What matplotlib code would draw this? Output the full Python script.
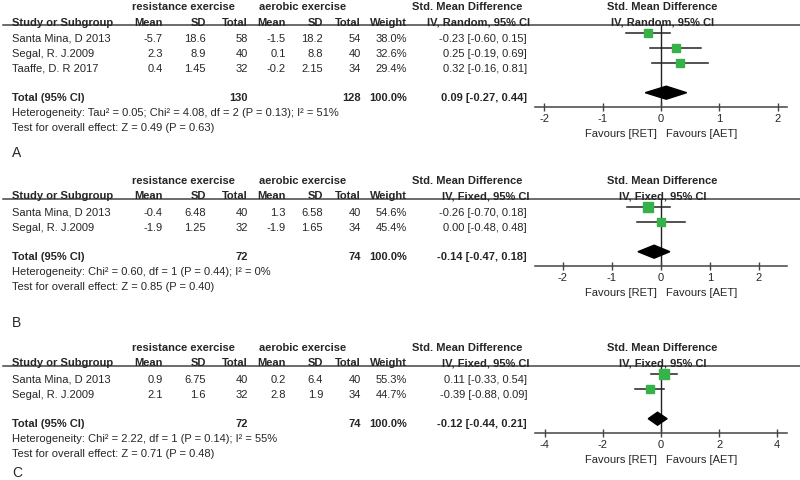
import matplotlib
matplotlib.use("Agg")
import matplotlib.pyplot as plt
import numpy as np

plt.rcParams['font.family'] = ['Liberation Sans', 'DejaVu Sans']
plt.rcParams['axes.unicode_minus'] = False

# ---- data ----
studies_a = ["Santa Mina, D 2013", "Segal, R. J.2009", "Taaffe, D. R 2017"]
ret_mean_a = [-5.7, 2.3, 0.4]
ret_sd_a = [18.6, 8.9, 1.45]
ret_n_a = [58, 40, 32]
aet_mean_a = [-1.5, 0.1, -0.2]
aet_sd_a = [18.2, 8.8, 2.15]
aet_n_a = [54, 40, 34]
weight_a = [38.0, 32.6, 29.4]
smd_a = [-0.23, 0.25, 0.32]
lo_a = [-0.60, -0.19, -0.16]
hi_a = [0.15, 0.69, 0.81]
total_a = [0.09, -0.27, 0.44]
total_n_a = [130, 128]
het_a = "Heterogeneity: Tau\u00b2 = 0.05; Chi\u00b2 = 4.08, df = 2 (P = 0.13); I\u00b2 = 51%"
test_a = "Test for overall effect: Z = 0.49 (P = 0.63)"

studies_b = ["Santa Mina, D 2013", "Segal, R. J.2009"]
ret_mean_b = [-0.4, -1.9]
ret_sd_b = [6.48, 1.25]
ret_n_b = [40, 32]
aet_mean_b = [1.3, -1.9]
aet_sd_b = [6.58, 1.65]
aet_n_b = [40, 34]
weight_b = [54.6, 45.4]
smd_b = [-0.26, 0.00]
lo_b = [-0.70, -0.48]
hi_b = [0.18, 0.48]
total_b = [-0.14, -0.47, 0.18]
total_n_b = [72, 74]
het_b = "Heterogeneity: Chi\u00b2 = 0.60, df = 1 (P = 0.44); I\u00b2 = 0%"
test_b = "Test for overall effect: Z = 0.85 (P = 0.40)"

studies_c = ["Santa Mina, D 2013", "Segal, R. J.2009"]
ret_mean_c = [0.9, 2.1]
ret_sd_c = [6.75, 1.6]
ret_n_c = [40, 32]
aet_mean_c = [0.2, 2.8]
aet_sd_c = [6.4, 1.9]
aet_n_c = [40, 34]
weight_c = [55.3, 44.7]
smd_c = [0.11, -0.39]
lo_c = [-0.33, -0.88]
hi_c = [0.54, 0.09]
total_c = [-0.12, -0.44, 0.21]
total_n_c = [72, 74]
het_c = "Heterogeneity: Chi\u00b2 = 2.22, df = 1 (P = 0.14); I\u00b2 = 55%"
test_c = "Test for overall effect: Z = 0.71 (P = 0.48)"

ticks_ab = [-2, -1, 0, 1, 2]
ticks_c = [-4, -2, 0, 2, 4]

TXT = '#262626'
LINE = '#444444'
GREEN = '#35b24a'
FS = 8

W, H = 800, 481
fig = plt.figure(figsize=(W / 100, H / 100), dpi=100)
bg = fig.add_axes([0, 0, 1, 1])
bg.set_xlim(0, W)
bg.set_ylim(H, 0)
bg.axis('off')

# column right edges (px)
col_x = [163, 206, 248, 286, 323, 361, 407, 527]


def txt(x, y, s, **kw):
    kw.setdefault('fontsize', FS)
    kw.setdefault('color', TXT)
    kw.setdefault('va', 'baseline')
    bg.text(x, y, s, **kw)


def panel(off, label, label_y, method, studies, rm, rs, rn, am, asd, an,
          wt, smd, lo, hi, tot, tot_n, het, test, xlim, ticks):
    n = len(studies)
    line_y = off + 25.5
    txt(183, off + 10, "resistance exercise", ha='center', weight='bold')
    txt(303, off + 10, "aerobic exercise", ha='center', weight='bold')
    txt(467, off + 10, "Std. Mean Difference", ha='center', weight='bold')
    txt(662, off + 10, "Std. Mean Difference", ha='center', weight='bold')
    txt(12, line_y, "Study or Subgroup", weight='bold')
    for x, h in zip(col_x, ["Mean", "SD", "Total", "Mean", "SD", "Total", "Weight",
                            "IV, %s, 95%% CI" % method]):
        txt(x + (3 if h.startswith("IV") else 0), line_y, h, ha='right', weight='bold')
    txt(663, line_y, "IV, %s, 95%% CI" % method, ha='center', weight='bold')
    bg.plot([3, 800], [line_y, line_y], color=LINE, lw=1.1)

    rows_y = [off + 41.7 + 15 * i for i in range(n)]
    for i, y in enumerate(rows_y):
        txt(12, y, studies[i])
        vals = ["%g" % rm[i], "%g" % rs[i], "%d" % rn[i], "%g" % am[i], "%g" % asd[i],
                "%d" % an[i], "%.1f%%" % wt[i],
                "%.2f [%.2f, %.2f]" % (smd[i], lo[i], hi[i])]
        for x, v in zip(col_x, vals):
            txt(x, y, v, ha='right')

    tot_y = rows_y[-1] + 29
    txt(12, tot_y, "Total (95% CI)", weight='bold')
    txt(col_x[2], tot_y, "%d" % tot_n[0], ha='right', weight='bold')
    txt(col_x[5], tot_y, "%d" % tot_n[1], ha='right', weight='bold')
    txt(col_x[6], tot_y, "100.0%", ha='right', weight='bold')
    txt(col_x[7], tot_y, "%.2f [%.2f, %.2f]" % tuple(tot), ha='right', weight='bold')
    txt(12, tot_y + 15.3, het)
    txt(12, tot_y + 30.3, test)
    txt(12, label_y, label, fontsize=10)

    axis_y = tot_y + 7
    ax = fig.add_axes([535 / W, 1 - axis_y / H, 252 / W, (axis_y - line_y) / H])
    ax.set_xlim(*xlim)
    ax.set_ylim(axis_y, line_y)
    ax.patch.set_visible(False)
    for s in ['top', 'left', 'right']:
        ax.spines[s].set_visible(False)
    ax.spines['bottom'].set_color(LINE)
    ax.spines['bottom'].set_linewidth(1.1)
    ax.set_yticks([])
    ax.set_xticks(ticks)
    ax.set_xticklabels([str(t) for t in ticks])
    ax.tick_params(axis='x', direction='inout', length=6, width=1, color=LINE,
                   labelsize=FS, labelcolor=TXT, pad=1.5)
    ax.axvline(0, color='#222222', lw=1.0, zorder=1)
    for i, y in enumerate(rows_y):
        yy = y - 7.5
        ax.plot([lo[i], hi[i]], [yy, yy], color='#222222', lw=1.1, zorder=2,
                clip_on=False)
        ax.plot(smd[i], yy, marker='s', ms=1.3 * np.sqrt(wt[i]) / 1.389,
                color=GREEN, mec=GREEN, zorder=3, clip_on=False)
    dy = tot_y - 7
    est, tlo, thi = tot
    ax.fill([tlo, est, thi, est], [dy, dy - 6.5, dy, dy + 6.5], color='black',
            zorder=4, clip_on=False)
    fav_y = axis_y + 29
    txt(657, fav_y, "Favours [RET]", ha='right')
    txt(666, fav_y, "Favours [AET]", ha='left')


panel(0, "A", 157, "Random", studies_a, ret_mean_a, ret_sd_a, ret_n_a,
      aet_mean_a, aet_sd_a, aet_n_a, weight_a, smd_a, lo_a, hi_a, total_a,
      total_n_a, het_a, test_a, (-2.16, 2.16), ticks_ab)
panel(174, "B", 327, "Fixed", studies_b, ret_mean_b, ret_sd_b, ret_n_b,
      aet_mean_b, aet_sd_b, aet_n_b, weight_b, smd_b, lo_b, hi_b, total_b,
      total_n_b, het_b, test_b, (-2.57, 2.57), ticks_ab)
panel(341, "C", 477, "Fixed", studies_c, ret_mean_c, ret_sd_c, ret_n_c,
      aet_mean_c, aet_sd_c, aet_n_c, weight_c, smd_c, lo_c, hi_c, total_c,
      total_n_c, het_c, test_c, (-4.34, 4.34), ticks_c)

fig.savefig("out.png", dpi=100)
